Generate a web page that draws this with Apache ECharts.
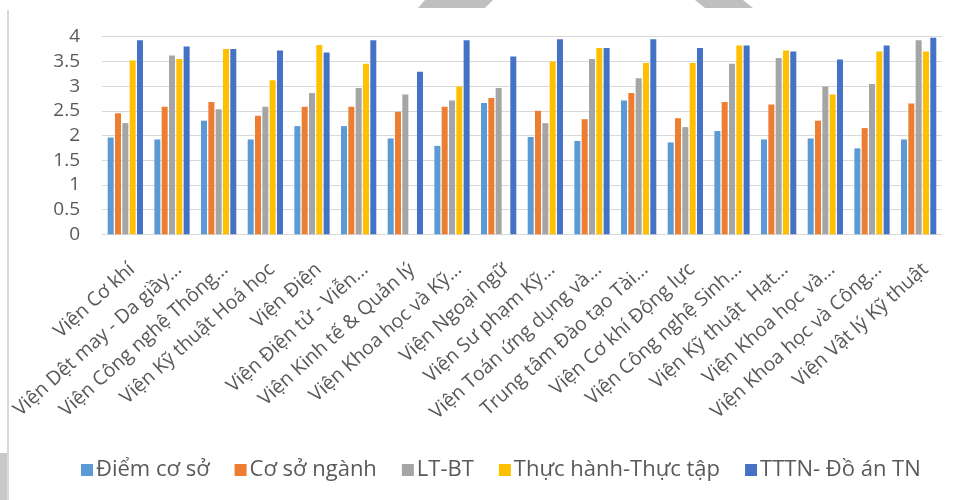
<!DOCTYPE html>
<html>
<head>
<meta charset="utf-8">
<script src="https://cdn.jsdelivr.net/npm/echarts@6/dist/echarts.min.js"></script>
<style>
html,body{margin:0;padding:0;background:#fff;}
#chart{width:964px;height:500px;}
</style>
</head>
<body>
<div id="chart"></div>
<script>
var categories = [
  "Viện Cơ khí",
  "Viện Dệt may - Da giầy…",
  "Viện Công nghệ Thông…",
  "Viện Kỹ thuật Hoá học",
  "Viện Điện",
  "Viện Điện tử - Viễn…",
  "Viện Kinh tế & Quản lý",
  "Viện Khoa học và Kỹ…",
  "Viện Ngoại ngữ",
  "Viện Sư phạm Kỹ…",
  "Viện Toán ứng dụng và…",
  "Trung tâm Đào tạo Tài…",
  "Viện Cơ khí Động lực",
  "Viện Công nghệ Sinh…",
  "Viện Kỹ thuật  Hạt…",
  "Viện Khoa học và…",
  "Viện Khoa học và Công…",
  "Viện Vật lý Kỹ thuật"
];
var seriesNames = ["Điểm cơ sở", "Cơ sở ngành", "LT-BT", "Thực hành-Thực tập", "TTTN- Đồ án TN"];
var diemCoSo   = [1.96, 1.92, 2.30, 1.92, 2.19, 2.19, 1.94, 1.79, 2.66, 1.97, 1.89, 2.71, 1.86, 2.09, 1.92, 1.94, 1.74, 1.92];
var coSoNganh  = [2.45, 2.58, 2.68, 2.40, 2.58, 2.58, 2.48, 2.58, 2.76, 2.50, 2.33, 2.86, 2.35, 2.68, 2.63, 2.30, 2.15, 2.65];
var ltBt       = [2.25, 3.62, 2.53, 2.58, 2.86, 2.96, 2.83, 2.71, 2.96, 2.25, 3.55, 3.16, 2.17, 3.45, 3.57, 2.99, 3.04, 3.93];
var thucHanh   = [3.52, 3.55, 3.75, 3.12, 3.83, 3.45, null, 2.99, null, 3.50, 3.77, 3.47, 3.47, 3.82, 3.72, 2.83, 3.70, 3.70];
var tttn       = [3.93, 3.80, 3.75, 3.72, 3.68, 3.93, 3.29, 3.93, 3.60, 3.95, 3.77, 3.95, 3.77, 3.82, 3.70, 3.54, 3.82, 3.98];
var yTicks = {min: 0, max: 4, interval: 0.5};
var colors = ["#5B9BD5", "#ED7D31", "#A5A5A5", "#FFC000", "#4472C4"];

var allData = [diemCoSo, coSoNganh, ltBt, thucHanh, tttn];
var series = allData.map(function (d, i) {
  return {
    name: seriesNames[i],
    type: 'bar',
    data: d,
    barWidth: 6,
    barGap: '22%',
    itemStyle: {color: colors[i]}
  };
});

var chart = echarts.init(document.getElementById('chart'), null, {renderer: 'canvas'});
chart.setOption({
  animation: false,
  color: colors,
  textStyle: {fontFamily: 'Open Sans'},
  grid: {left: 102, right: 22, top: 36.7, bottom: 265.7, containLabel: false},
  graphic: [
    {type: 'rect', shape: {x: 7, y: 10, width: 2, height: 490}, style: {fill: '#d9d9d9'}, silent: true},
    {type: 'rect', shape: {x: 0, y: 453, width: 7, height: 47}, style: {fill: '#c8c8c8'}, silent: true},
    {type: 'polygon', shape: {points: [[425, 0], [493, 0], [485, 8], [418, 8]]}, style: {fill: '#bfbfbf'}, silent: true},
    {type: 'polygon', shape: {points: [[695, 0], [743, 0], [753, 8], [705, 8]]}, style: {fill: '#bfbfbf'}, silent: true}
  ],
  legend: {
    data: seriesNames,
    left: 76,
    top: 454,
    itemWidth: 12,
    itemHeight: 12,
    itemGap: 25,
    icon: 'rect',
    textStyle: {fontSize: 22, color: '#595959', fontFamily: 'Open Sans', padding: [0, 0, 0, -2]}
  },
  xAxis: {
    type: 'category',
    data: categories,
    axisLine: {lineStyle: {color: '#d9d9d9', width: 1}},
    axisTick: {show: false},
    axisLabel: {rotate: 42, interval: 0, fontSize: 19.5, color: '#595959', margin: 25,
                verticalAlign: 'top', fontFamily: 'Open Sans'}
  },
  yAxis: {
    type: 'value',
    min: yTicks.min,
    max: yTicks.max,
    interval: yTicks.interval,
    axisLine: {show: false},
    axisTick: {show: false},
    splitLine: {lineStyle: {color: '#d9d9d9', width: 1}},
    axisLabel: {fontSize: 19, color: '#595959', margin: 22, fontFamily: 'Open Sans'}
  },
  series: series
});
</script>
</body>
</html>
